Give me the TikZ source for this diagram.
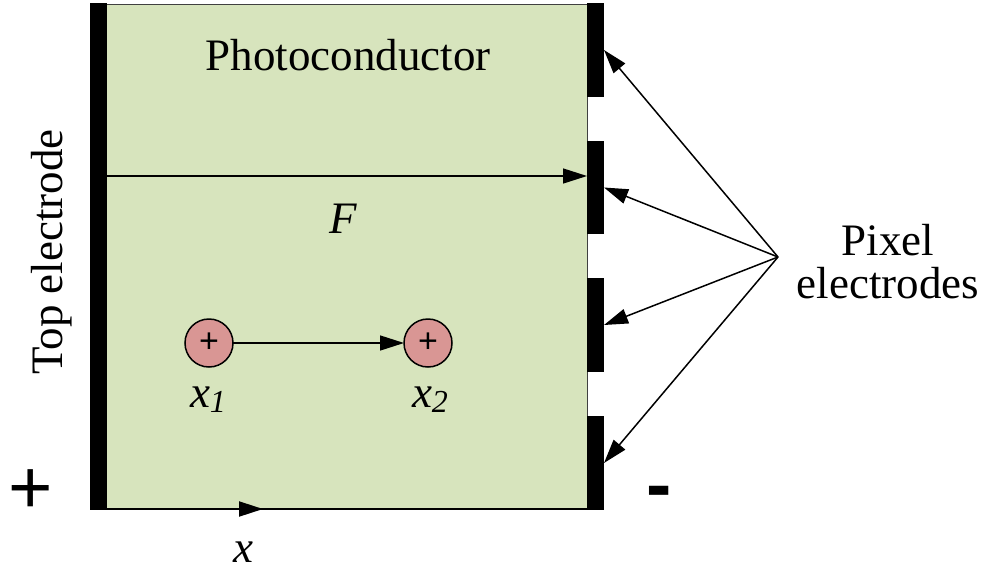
\documentclass[tikz,border=0pt]{standalone}
\usepackage{fontspec}
\setmainfont{Liberation Serif}
\newfontfamily\signfont{Liberation Sans}
\usetikzlibrary{arrows.meta}
\definecolor{pcgreen}{HTML}{D7E4BD}
\definecolor{chargered}{HTML}{D99694}
\begin{document}
\begin{tikzpicture}[x=1pt,y=-1pt,
  every node/.style={inner sep=0pt, outer sep=0pt},
  lbl/.style={font=\fontsize{45}{43}\selectfont},
  arr/.style={line width=1.5pt, -{Triangle[length=24pt,width=15pt]}},
  electrode/.style={fill=black, draw=none, minimum width=17pt, inner sep=0pt, anchor=north west},
  charge/.style={circle, draw=black, line width=1.5pt, fill=chargered, minimum size=48pt, inner sep=0pt, font=\signfont\fontsize{34}{34}\selectfont},
  sign/.style={font=\signfont\fontsize{76}{76}\selectfont, anchor=base}]
\useasboundingbox (0,0) rectangle (988,573);
% photoconductor body
\node[draw=black!75, line width=1pt, fill=pcgreen, minimum width=481pt, minimum height=505pt, anchor=north west] (pc) at (106,4) {};
\node[lbl, anchor=base] (ptitle) at (348,70) {Photoconductor};
% top electrode
\node[electrode, minimum height=507pt] (top) at (90,3) {};
% pixel electrodes
\node[electrode, minimum height=94pt] (e1) at (587,3) {};
\node[electrode, minimum height=93pt] (e2) at (587,141) {};
\node[electrode, minimum height=94pt] (e3) at (587,278) {};
\node[electrode, minimum height=94pt] (e4) at (587,416) {};
% bottom axis
\coordinate (xtip) at (263,509);
\draw[line width=2pt] (pc.south west) -- (pc.south east);
\draw[arr, line width=2pt] (pc.south west) -- (xtip);
\node[lbl, anchor=base] (xl) at (243,562) {\itshape x};
% field arrow
\coordinate (f0) at (106,176);
\coordinate (f1) at (587,176);
\draw[arr] (f0) -- (f1);
\node[lbl, anchor=base] (F) at (343,233) {\itshape F};
% charges
\node[charge] (c1) at (209,343) {+};
\node[charge] (c2) at (428,343) {+};
\draw[arr] (c1) -- (c2);
\node[lbl, anchor=base] (x1) at (208,407) {\itshape x\raisebox{-5pt}{\fontsize{32}{32}\selectfont 1}};
\node[lbl, anchor=base] (x2) at (430,407) {\itshape x\raisebox{-5pt}{\fontsize{32}{32}\selectfont 2}};
% labels
\node[lbl, rotate=90, anchor=base] (tl) at (62,252) {Top electrode};
\node[lbl, align=center, anchor=base] (pe) at (888,298) {Pixel\\electrodes};
\coordinate (hub) at (778,257);
\draw[arr] (hub) -- (e1.east);
\draw[arr] (hub) -- (e2.east);
\draw[arr] (hub) -- (e3.east);
\draw[arr] (hub) -- (e4.east);
% polarity
\node[sign] (plus) at (31,513) {+};
\node[sign, font=\signfont\bfseries\fontsize{76}{76}\selectfont] (minus) at (659,510) {-};
\end{tikzpicture}
\end{document}
